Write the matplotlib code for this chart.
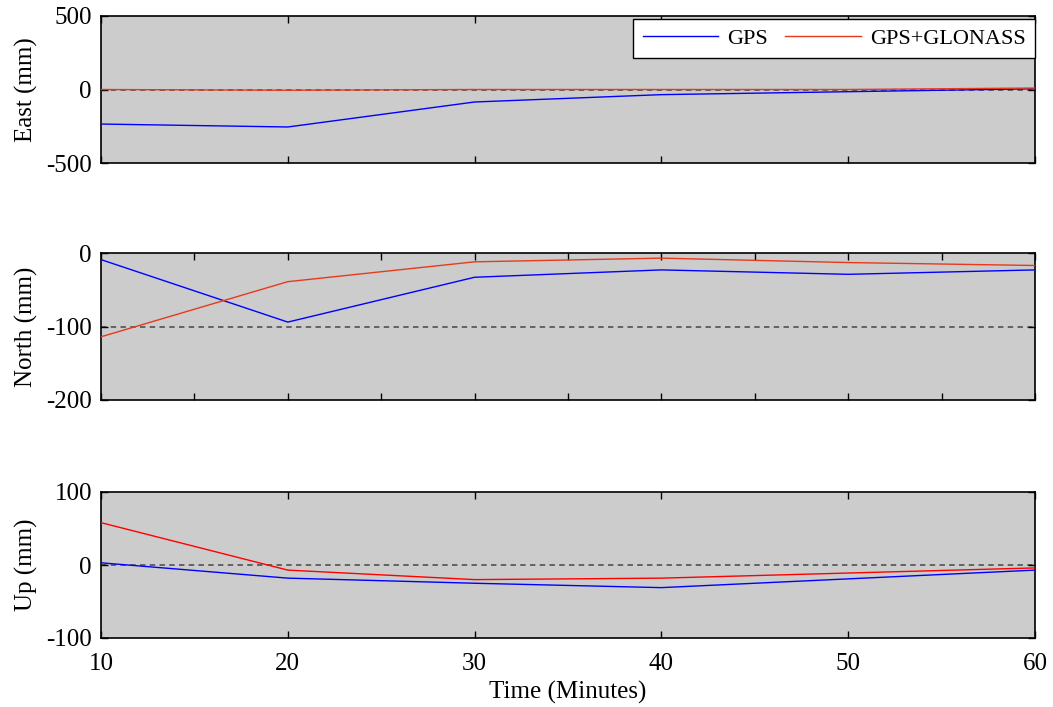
import numpy as np
import matplotlib
matplotlib.use("Agg")
from matplotlib import pyplot as plt

plt.rcParams['font.family'] = ['Liberation Serif', 'DejaVu Serif']
plt.rcParams['axes.unicode_minus'] = False

# time in minutes
time = [10, 20, 30, 40, 50, 60]

# East (mm)
east_gps = [-235, -255, -85, -35, -15, 5]
east_glo = [0, -5, 0, 0, 0, 10]
# North (mm)
north_gps = [-9, -94, -33, -23, -29, -23]
north_glo = [-114, -39, -12, -7, -13, -17]
# Up (mm)
up_gps = [3, -18, -25, -31, -19, -7]
up_glo = [58, -7, -20, -18, -11, -4]

panels = [
    ("East (mm)", east_gps, east_glo, (-500, 500), [-500, 0, 500], 0, 10, "#e83a1a"),
    ("North (mm)", north_gps, north_glo, (-200, 0), [-200, -100, 0], -100, 5, "#e83a1a"),
    ("Up (mm)", up_gps, up_glo, (-100, 100), [-100, 0, 100], 0, 10, "#ff0000"),
]

fig = plt.figure(figsize=(10.53, 7.07), dpi=100)
W, H = 1053, 707
left, right = 101, 1035
tops = [(16, 163), (253, 400), (492, 638)]

axes = []
for (ylabel, gps, glo, ylim, yticks, ref, step, rcol), (t, b) in zip(panels, tops):
    ax = fig.add_axes([left / W, 1 - b / H, (right - left) / W, (b - t) / H])
    ax.set_facecolor("#cccccc")
    ax.axhline(ref, color="#5a5a5a", linestyle=(0, (3, 2.4)), linewidth=1.3, zorder=1)
    ax.plot(time, gps, color="#0000ff", linewidth=1.0, label="GPS", zorder=3)
    ax.plot(time, glo, color=rcol, linewidth=1.0, label="GPS+GLONASS", zorder=3)
    ax.set_xlim(10, 60)
    ax.set_ylim(*ylim)
    ax.set_yticks(yticks)
    ax.set_xticks(np.arange(10, 61, step))
    ax.tick_params(direction="in", top=True, right=True, length=5, width=1,
                   labelsize=18)
    ax.tick_params(axis="y", pad=6.5)
    ax.tick_params(axis="x", pad=11)
    ax.set_ylabel(ylabel, fontsize=18, labelpad=6)
    for s in ax.spines.values():
        s.set_linewidth(1.2)
    axes.append(ax)

axes[0].tick_params(labelbottom=False)
axes[1].tick_params(labelbottom=False)
axes[2].set_xlabel("Time (Minutes)", fontsize=18, labelpad=4)

leg = axes[0].legend(loc="upper right", bbox_to_anchor=(1.0, 1 - 3 / 147),
                     ncol=2, fontsize=16, frameon=True,
                     fancybox=False, borderaxespad=0, handlelength=3.4,
                     handletextpad=0.4, columnspacing=0.8, borderpad=0.42)
leg.get_frame().set_edgecolor("black")
leg.get_frame().set_linewidth(1.0)
leg.get_frame().set_alpha(1)

fig.savefig("out.png", dpi=100)
